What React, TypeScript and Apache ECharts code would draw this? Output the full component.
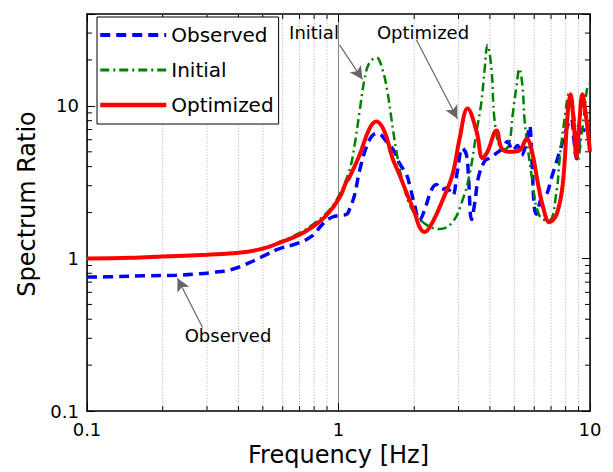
import React, { useEffect, useRef } from "react";
import * as echarts from "echarts";

const FONT = "DejaVu Sans";

// Observed spectrum ratio
const observedFreq = [0.1, 0.13, 0.17, 0.227, 0.27, 0.315, 0.379, 0.443, 0.517, 0.582, 0.681, 0.788, 0.864, 0.946, 1.037, 1.08, 1.106, 1.158, 1.212, 1.292, 1.365, 1.43, 1.552, 1.67, 1.748, 1.864, 1.93, 2.005, 2.099, 2.197, 2.34, 2.45, 2.57, 2.69, 2.84, 2.97, 3.11, 3.23, 3.29, 3.38, 3.48, 3.6, 3.81, 3.98, 4.25, 4.49, 4.7, 4.92, 5.15, 5.34, 5.6, 5.75, 5.88, 6.0, 6.12, 6.41, 6.7, 7.03, 7.44, 7.79, 8.14, 8.42, 8.63, 8.84, 9.05, 9.23, 9.77, 10];
const observedRatio = [0.755, 0.76, 0.77, 0.777, 0.79, 0.81, 0.85, 0.94, 1.06, 1.16, 1.25, 1.41, 1.68, 1.87, 1.92, 1.95, 2.1, 2.6, 3.75, 5.4, 6.4, 6.6, 5.85, 5.0, 4.2, 3.55, 2.9, 2.26, 1.78, 2.07, 2.8, 3.05, 2.83, 2.9, 2.6, 3.75, 5.28, 4.75, 3.3, 1.8, 2.3, 3.4, 4.35, 4.55, 4.9, 5.28, 5.85, 5.1, 5.5, 4.75, 5.85, 7.4, 4.3, 2.2, 1.95, 2.5, 2.6, 3.38, 4.55, 5.85, 7.4, 8.2, 6.0, 4.5, 5.8, 7.0, 6.8, 6.5];

// Initial model
const initialFreq = [0.1, 0.15, 0.2, 0.3, 0.4, 0.5, 0.6, 0.7, 0.79, 0.9, 1.0, 1.106, 1.158, 1.212, 1.269, 1.328, 1.416, 1.496, 1.566, 1.624, 1.701, 1.797, 1.97, 2.24, 2.52, 2.84, 3.11, 3.32, 3.54, 3.7, 3.81, 3.91, 4.06, 4.17, 4.4, 4.6, 4.79, 4.92, 5.1, 5.24, 5.39, 5.49, 5.64, 5.85, 6.0, 6.18, 6.47, 6.9, 7.37, 7.56, 7.92, 8.29, 8.68, 8.92, 9.33, 9.77, 10];
const initialRatio = [1.0, 1.01, 1.03, 1.06, 1.09, 1.17, 1.31, 1.47, 1.67, 2.0, 2.55, 3.8, 5.5, 9.1, 14.9, 19.2, 20.7, 17.3, 12.3, 8.2, 5.0, 3.2, 2.07, 1.66, 1.56, 1.73, 2.4, 3.55, 6.8, 10.6, 17.3, 25, 17.3, 8.2, 5.3, 5.2, 5.85, 8.6, 13.4, 17.5, 13.4, 8.2, 5.5, 3.55, 2.6, 2.07, 1.81, 1.78, 2.79, 4.35, 8.2, 12.3, 8.2, 4.35, 7.1, 13.4, 14];

// Optimized model
const optimizedFreq = [0.1, 0.15, 0.2, 0.3, 0.4, 0.5, 0.599, 0.7, 0.788, 0.896, 1.009, 1.076, 1.1, 1.212, 1.328, 1.416, 1.524, 1.639, 1.748, 1.864, 2.005, 2.099, 2.197, 2.365, 2.59, 2.84, 3.03, 3.26, 3.54, 3.74, 3.91, 4.25, 4.45, 4.79, 5.24, 5.6, 5.9, 6.18, 6.47, 6.9, 7.37, 7.79, 8.14, 8.37, 8.6, 8.84, 9.08, 9.33, 9.6, 10];
const optimizedRatio = [1.0, 1.01, 1.03, 1.06, 1.09, 1.16, 1.29, 1.43, 1.61, 1.92, 2.5, 3.2, 3.35, 4.75, 7.1, 7.9, 6.8, 4.55, 3.54, 2.7, 2.01, 1.61, 1.49, 1.73, 2.4, 3.55, 6.1, 9.6, 6.8, 4.55, 5.0, 6.9, 5.28, 5.0, 5.1, 6.1, 4.9, 3.23, 2.26, 1.73, 1.95, 3.05, 8.6, 11.9, 8.0, 4.6, 8.0, 11.9, 9.0, 5.0];

// Axes
const X_MIN = 0.1;
const X_MAX = 10;
const Y_MIN = 0.1;
const Y_MAX = 40;
const xTickLabels = ["0.1", "1", "10"];
const yTickLabels = ["0.1", "1", "10"];
const xMinorTicks = [0.2, 0.3, 0.4, 0.5, 0.6, 0.7, 0.8, 0.9, 2, 3, 4, 5, 6, 7, 8, 9];
const yMinorTicks = [0.2, 0.3, 0.4, 0.5, 0.6, 0.7, 0.8, 0.9, 2, 3, 4, 5, 6, 7, 8, 9, 20, 30];

// Annotation arrows: [fromFreq, fromRatio, toFreq, toRatio]
const arrowInitial = [1.009, 25.1, 1.246, 14.9];
const arrowOptimized = [2.04, 27.1, 2.97, 8.24];
const arrowObserved = [0.288, 0.353, 0.229, 0.743];

const pairs = (xs: number[], ys: number[]) => xs.map((x, i) => [x, ys[i]]);

const decadeLabel = (labels: string[], first: number) => (v: number) => {
  const l = Math.log10(v);
  const r = Math.round(l);
  if (Math.abs(l - r) > 1e-6) return "";
  return labels[r - first] ?? "";
};

const BLUE_DASH = [10, 6];
const GREEN_DASH = [9, 4, 2, 4];

export default function App() {
  const ref = useRef<HTMLDivElement>(null);

  useEffect(() => {
    if (!ref.current) return;
    const chart = echarts.init(ref.current, undefined, { renderer: "svg" });

    const axisLineStyle = { color: "#000", width: 1.5 };
    const baseX = { type: "log" as const, logBase: 10, min: X_MIN, max: X_MAX };
    const baseY = { type: "log" as const, logBase: 10, min: Y_MIN, max: Y_MAX };
    const tick = { show: true, inside: true, length: 8, lineStyle: { color: "#000", width: 1 } };
    const annoText = (text: string, x: number, y: number) => ({
      type: "text",
      x,
      y,
      z: 20,
      style: { text, fontSize: 18, fontFamily: FONT, fill: "#000", textAlign: "center", textVerticalAlign: "middle" },
    });

    const option: any = {
      animation: false,
      backgroundColor: "#fff",
      textStyle: { fontFamily: FONT },
      grid: { left: 87, right: 23, top: 14, bottom: 55, containLabel: false },
      legend: {
        data: [
          { name: "Observed", lineStyle: { width: 4, type: BLUE_DASH } },
          { name: "Initial", lineStyle: { width: 3, type: GREEN_DASH } },
          { name: "Optimized", lineStyle: { width: 4.5 } },
        ],
        orient: "vertical",
        left: 97,
        top: 17,
        padding: [8, 5, 9, 1],
        itemWidth: 66,
        itemHeight: 20,
        itemGap: 15,
        itemStyle: { color: "rgba(0,0,0,0)", borderWidth: 0, opacity: 0 },
        backgroundColor: "#fff",
        borderColor: "#000",
        borderWidth: 1,
        borderRadius: 0,
        textStyle: { fontSize: 20, fontFamily: FONT, color: "#000" },
        z: 10,
      },
      xAxis: [
        {
          ...baseX,
          position: "bottom",
          name: "Frequency [Hz]",
          nameLocation: "middle",
          nameGap: 28,
          nameTextStyle: { fontSize: 24, fontFamily: FONT, color: "#000" },
          axisLine: { show: true, lineStyle: axisLineStyle },
          axisTick: tick,
          axisLabel: { fontSize: 18, fontFamily: FONT, color: "#000", margin: 9, formatter: decadeLabel(xTickLabels, -1) },
          splitLine: { show: true, lineStyle: { color: "#888", width: 1 } },
        },
        {
          ...baseX,
          position: "top",
          axisLine: { show: true, lineStyle: axisLineStyle },
          axisTick: tick,
          axisLabel: { show: false },
          splitLine: { show: false },
        },
      ],
      yAxis: [
        {
          ...baseY,
          position: "left",
          axisLine: { show: true, lineStyle: axisLineStyle },
          axisTick: tick,
          axisLabel: { fontSize: 18, fontFamily: FONT, color: "#000", margin: 8, formatter: decadeLabel(yTickLabels, -1) },
          splitLine: { show: false },
        },
        {
          ...baseY,
          position: "right",
          axisLine: { show: true, lineStyle: axisLineStyle },
          axisTick: tick,
          axisLabel: { show: false },
          splitLine: { show: false },
        },
      ],
      graphic: [
        {
          type: "text",
          x: 27,
          y: 204,
          rotation: Math.PI / 2,
          style: { text: "Spectrum Ratio", fontSize: 24, fontFamily: FONT, fill: "#000", textAlign: "center", textVerticalAlign: "middle" },
        },
        annoText("Initial", 314, 32),
        annoText("Optimized", 423, 32),
        annoText("Observed", 228, 335),
      ],
      series: [
        {
          type: "custom",
          name: "xminor",
          silent: true,
          z: 1,
          clip: false,
          data: xMinorTicks.map((v) => [v, 1]),
          renderItem: (_p: any, api: any) => {
            const v = api.value(0);
            const b = api.coord([v, Y_MIN]);
            const t = api.coord([v, Y_MAX]);
            return {
              type: "group",
              children: [
                { type: "line", shape: { x1: b[0], y1: b[1], x2: t[0], y2: t[1] }, style: { stroke: "#c4c4c4", lineWidth: 1, lineDash: [1.5, 1.5] } },
                { type: "line", shape: { x1: b[0], y1: b[1], x2: b[0], y2: b[1] - 5 }, style: { stroke: "#000", lineWidth: 1 } },
                { type: "line", shape: { x1: t[0], y1: t[1], x2: t[0], y2: t[1] + 5 }, style: { stroke: "#000", lineWidth: 1 } },
              ],
            };
          },
        },
        {
          type: "custom",
          name: "yminor",
          silent: true,
          z: 1,
          clip: false,
          data: yMinorTicks.map((v) => [1, v]),
          renderItem: (_p: any, api: any) => {
            const v = api.value(1);
            const l = api.coord([X_MIN, v]);
            const r = api.coord([X_MAX, v]);
            return {
              type: "group",
              children: [
                { type: "line", shape: { x1: l[0], y1: l[1], x2: l[0] + 5, y2: l[1] }, style: { stroke: "#000", lineWidth: 1 } },
                { type: "line", shape: { x1: r[0], y1: r[1], x2: r[0] - 5, y2: r[1] }, style: { stroke: "#000", lineWidth: 1 } },
              ],
            };
          },
        },
        {
          type: "line",
          name: "Observed",
          data: pairs(observedFreq, observedRatio),
          showSymbol: false,
          symbol: "none",
          smooth: 0.4,
          z: 3,
          lineStyle: { color: "#0000ff", width: 3.5, type: BLUE_DASH },
          itemStyle: { color: "#0000ff" },
        },
        {
          type: "line",
          name: "Initial",
          data: pairs(initialFreq, initialRatio),
          showSymbol: false,
          symbol: "none",
          smooth: 0.4,
          z: 4,
          lineStyle: { color: "#008000", width: 2.5, type: GREEN_DASH },
          itemStyle: { color: "#008000" },
        },
        {
          type: "line",
          name: "Optimized",
          data: pairs(optimizedFreq, optimizedRatio),
          showSymbol: false,
          symbol: "none",
          smooth: 0.4,
          z: 5,
          lineStyle: { color: "#ff0000", width: 4 },
          itemStyle: { color: "#ff0000" },
          markLine: {
            silent: true,
            symbol: ["none", "arrow"],
            symbolSize: [10, 13],
            label: { show: false },
            lineStyle: { color: "#666", width: 1.2, type: "solid" },
            emphasis: { disabled: true },
            data: [arrowInitial, arrowOptimized, arrowObserved].map((a) => [
              { coord: [a[0], a[1]] },
              { coord: [a[2], a[3]] },
            ]),
          },
        },
      ],
    };

    chart.setOption(option);
    return () => chart.dispose();
  }, []);

  return (
    <div
      ref={ref}
      style={{ position: "fixed", left: 0, top: 0, width: 613, height: 472, background: "#fff" }}
    />
  );
}
